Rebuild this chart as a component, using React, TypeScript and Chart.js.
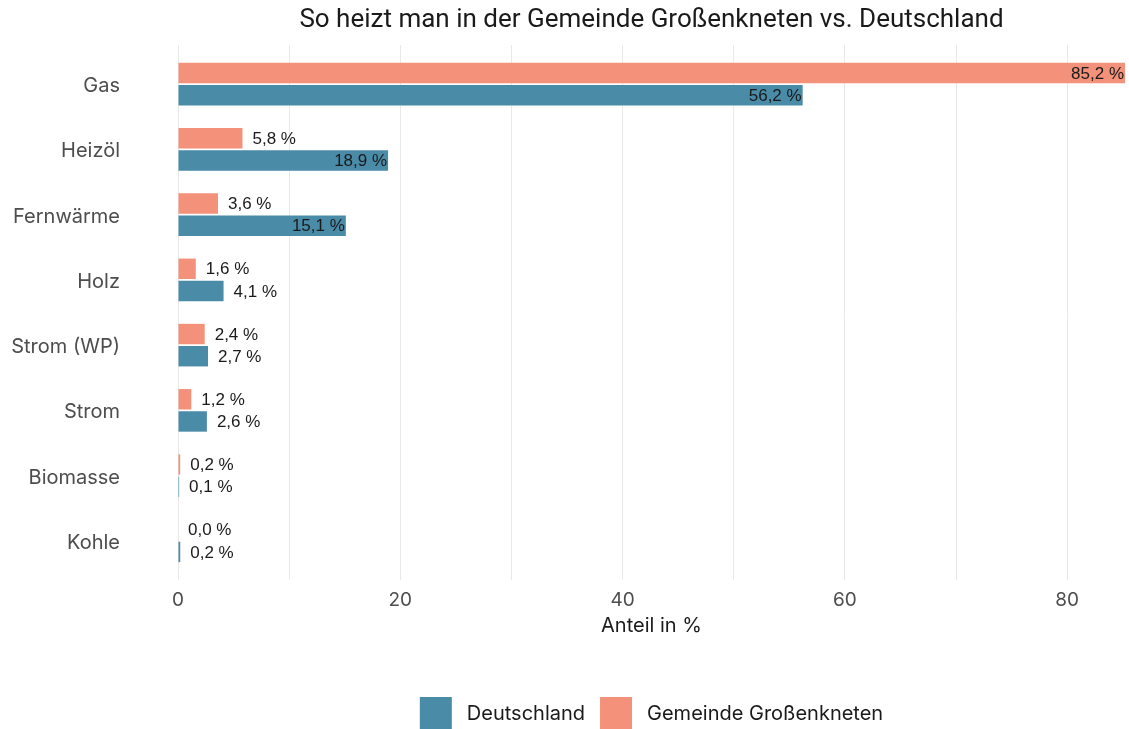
import React, { useEffect, useRef } from 'react';
import { Chart, registerables } from 'chart.js';

Chart.register(...registerables);

const chartTitle = 'So heizt man in der Gemeinde Großenkneten vs. Deutschland';
const xAxisTitle = 'Anteil in %';
const categories = ['Gas', 'Heizöl', 'Fernwärme', 'Holz', 'Strom (WP)', 'Strom', 'Biomasse', 'Kohle'];
const gemeindeName = 'Gemeinde Großenkneten';
const deutschlandName = 'Deutschland';
const gemeindeValues = [85.2, 5.8, 3.6, 1.6, 2.4, 1.2, 0.2, 0.0];
const deutschlandValues = [56.2, 18.9, 15.1, 4.1, 2.7, 2.6, 0.1, 0.2];
const xTickValues = [0, 10, 20, 30, 40, 50, 60, 70, 80];
const xLabelValues = [0, 20, 40, 60, 80];

const ORANGE = '#F3917A';
const BLUE = '#4A8BA8';
const INSIDE_THRESHOLD = 10;

const fmt = (v: number) => v.toFixed(1).replace('.', ',') + ' %';

const barLabelPlugin = {
  id: 'barLabels',
  afterDatasetsDraw(chart: any) {
    const ctx = chart.ctx;
    ctx.save();
    ctx.font = '17px "Liberation Sans", Arial, sans-serif';
    ctx.fillStyle = '#1a1a1a';
    ctx.textBaseline = 'middle';
    chart.data.datasets.forEach((ds: any, di: number) => {
      const meta = chart.getDatasetMeta(di);
      meta.data.forEach((bar: any, i: number) => {
        const v = ds.data[i].x as number;
        const { x, y } = bar.getProps(['x', 'y'], true);
        if (v > INSIDE_THRESHOLD) {
          ctx.textAlign = 'right';
          ctx.fillText(fmt(v), x - 1, y + 1);
        } else {
          ctx.textAlign = 'left';
          ctx.fillText(fmt(v), x + 10, y + 1);
        }
      });
    });
    ctx.restore();
  },
};

const titleLegendPlugin = {
  id: 'titleLegend',
  afterDraw(chart: any) {
    const ctx = chart.ctx;
    const area = chart.chartArea;
    const cx = (area.left + area.right) / 2;
    ctx.save();
    // Title
    ctx.font = '26px Roboto, sans-serif';
    ctx.fillStyle = '#1a1a1a';
    ctx.textAlign = 'center';
    ctx.textBaseline = 'middle';
    ctx.fillText(chartTitle, cx, 20);

    // Legend (reverse dataset order)
    const items = chart.data.datasets
      .map((ds: any) => ({ label: ds.label, color: ds.backgroundColor }))
      .reverse();
    ctx.font = '20px Inter, sans-serif';
    const box = 32;
    const gapBoxText = 15;
    const gapItems = 15;
    const widths = items.map((it: any) => ctx.measureText(it.label).width);
    let total = 0;
    items.forEach((_: any, i: number) => {
      total += box + gapBoxText + widths[i];
      if (i < items.length - 1) total += gapItems;
    });
    let x = cx - total / 2;
    const cy = 714;
    items.forEach((it: any, i: number) => {
      ctx.fillStyle = it.color;
      ctx.fillRect(x, cy - box / 2 - 1, box, box);
      x += box + gapBoxText;
      ctx.fillStyle = '#1a1a1a';
      ctx.textAlign = 'left';
      ctx.textBaseline = 'middle';
      ctx.fillText(it.label, x, cy);
      x += widths[i] + gapItems;
    });
    ctx.restore();
  },
};

export default function App() {
  const canvasRef = useRef<HTMLCanvasElement | null>(null);

  useEffect(() => {
    document.body.style.margin = '0';
    const canvas = canvasRef.current;
    if (!canvas) return;
    const chart = new Chart(canvas, {
      type: 'bar',
      data: {
        datasets: [
          {
            label: gemeindeName,
            data: gemeindeValues.map((v, i) => ({ x: v, y: i })),
            backgroundColor: ORANGE,
            borderWidth: 0,
          },
          {
            label: deutschlandName,
            data: deutschlandValues.map((v, i) => ({ x: v, y: i })),
            backgroundColor: BLUE,
            borderWidth: 0,
          },
        ],
      },
      options: {
        indexAxis: 'y',
        animation: false,
        responsive: true,
        maintainAspectRatio: false,
        layout: { padding: { top: 45, right: 4, bottom: 84, left: 0 } },
        datasets: { bar: { categoryPercentage: 0.68, barPercentage: 0.92 } },
        plugins: {
          legend: { display: false },
          title: { display: false },
          tooltip: { enabled: false },
        },
        scales: {
          x: {
            type: 'linear',
            min: 0,
            max: 85.2,
            afterBuildTicks: (scale: any) => {
              scale.ticks = xTickValues.map((v) => ({ value: v }));
            },
            afterFit: (scale: any) => {
              scale.height = 65;
            },
            grid: { color: '#e8e8e8', lineWidth: 1, drawTicks: false },
            border: { display: false },
            ticks: {
              padding: 9,
              color: '#4d4d4d',
              font: { family: 'Inter, sans-serif', size: 19 },
              autoSkip: false,
              maxRotation: 0,
              callback: (v: any) => (xLabelValues.includes(Number(v)) ? String(v) : ''),
            },
            title: {
              display: true,
              text: xAxisTitle,
              color: '#1a1a1a',
              font: { family: 'Inter, sans-serif', size: 20 },
              padding: { top: 0, bottom: 7 },
            },
          },
          y: {
            type: 'linear',
            offset: false,
            min: -0.6,
            max: categories.length - 1 + 0.6,
            reverse: true,
            afterBuildTicks: (scale: any) => {
              scale.ticks = categories.map((_, i) => ({ value: i }));
            },
            afterFit: (scale: any) => {
              scale.width = 178;
              scale.paddingTop = 0;
              scale.paddingBottom = 0;
            },
            grid: { display: false, drawTicks: false, offset: false },
            border: { display: false },
            ticks: {
              padding: 58,
              labelOffset: 2,
              color: '#4d4d4d',
              font: { family: 'Inter, sans-serif', size: 20 },
              autoSkip: false,
              callback: (v: any) => categories[Number(v)] ?? '',
            },
          },
        },
      },
      plugins: [barLabelPlugin, titleLegendPlugin],
    } as any);
    return () => chart.destroy();
  }, []);

  return (
    <div style={{ width: 1129, height: 729, position: 'relative' }}>
      <canvas ref={canvasRef} />
    </div>
  );
}
